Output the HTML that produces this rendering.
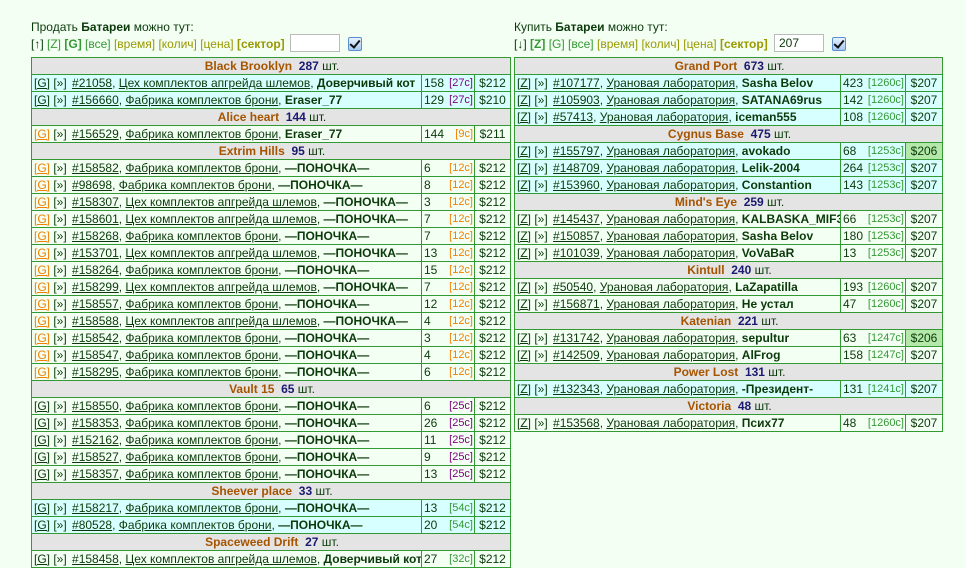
<!DOCTYPE html>
<html><head><meta charset="utf-8">
<style>
body{margin:0;background:#f4fff4;font-family:"Liberation Sans","DejaVu Sans",sans-serif;font-size:12px;color:#0a3a0a;width:966px;height:567px;overflow:hidden;position:relative}
.hd{position:absolute;font-size:12px;white-space:nowrap}
.l1{top:20px}
.l2{top:37px}
.g{color:#339933}.o{color:#999900}
.inp{position:absolute;border:1px solid #bbb;background:#fff;font-size:12px;line-height:16px;padding-left:4px;box-sizing:border-box;width:50px;height:18px}
.cb{position:absolute;width:12px;height:12px;border:1px solid #5b8fd0;border-radius:2px;background:linear-gradient(#e8f2ff,#a8c8f0)}
.cb:after{content:"";position:absolute;left:3px;top:0px;width:4px;height:8px;border:solid #111;border-width:0 2px 2px 0;transform:rotate(40deg)}
table{position:absolute;border-collapse:collapse;table-layout:fixed;top:57px}
td{border:1px solid #339933;height:16px;padding:0 0 0 2px;white-space:nowrap;overflow:hidden;line-height:16px;font-size:12px}
tr.h td{background:#e4e4e4;text-align:center}
.sn{color:#a65400;font-weight:bold}
.ct{color:#1a1a70;font-weight:bold}
tr.c td{background:#d8ffff}
tr.w td{background:#f4fff4}
a{color:#0a3a0a;text-decoration:underline}
.og{color:#f08000}
b{color:#0a3a0a}
.n{margin-left:2px}
.t{float:right;font-size:11px;line-height:16px;padding-right:1px}
.tp{color:#800080}.to{color:#f08000}.tg{color:#339933}
td.p{text-align:center;padding:0}
td.hl{background:#b4e8a8 !important}
</style></head><body>
<div class="hd l1" style="left:31px">Продать <b>Батареи</b> можно тут:</div>
<div class="hd l2" style="left:31px">[↑] <span class="g">[Z]</span> <b class="g" style="color:#339933">[G]</b> <span class="g">[все]</span> <span class="o">[время]</span> <span class="o">[колич]</span> <span class="o">[цена]</span> <b style="color:#999900">[сектор]</b></div>
<div class="inp" style="left:290px;top:34px"></div>
<div class="cb" style="left:348px;top:37px"></div>
<div class="hd l1" style="left:514px">Купить <b>Батареи</b> можно тут:</div>
<div class="hd l2" style="left:514px">[↓] <b style="color:#339933">[Z]</b> <span class="g">[G]</span> <span class="g">[все]</span> <span class="o">[время]</span> <span class="o">[колич]</span> <span class="o">[цена]</span> <b style="color:#999900">[сектор]</b></div>
<div class="inp" style="left:774px;top:34px">207</div>
<div class="cb" style="left:832px;top:37px"></div>

<table style="left:31px;width:479px">
<col style="width:390px"><col style="width:53px"><col style="width:36px">
<tr class="h"><td colspan="3"><span class="sn">Black Brooklyn</span>&nbsp; <span class="ct">287</span> шт.</td></tr>
<tr class="c"><td><a>[G]</a> [»] <a class="n">#21058</a>, <a>Цех комплектов апгрейда шлемов</a>, <b>Доверчивый кот</b></td><td>158<span class="t tp">[27c]</span></td><td class="p">$212</td></tr>
<tr class="c"><td><a>[G]</a> [»] <a class="n">#156660</a>, <a>Фабрика комплектов брони</a>, <b>Eraser_77</b></td><td>129<span class="t tp">[27c]</span></td><td class="p">$210</td></tr>
<tr class="h"><td colspan="3"><span class="sn">Alice heart</span>&nbsp; <span class="ct">144</span> шт.</td></tr>
<tr class="w"><td><a class="og">[G]</a> [»] <a class="n">#156529</a>, <a>Фабрика комплектов брони</a>, <b>Eraser_77</b></td><td>144<span class="t to">[9c]</span></td><td class="p">$211</td></tr>
<tr class="h"><td colspan="3"><span class="sn">Extrim Hills</span>&nbsp; <span class="ct">95</span> шт.</td></tr>
<tr class="w"><td><a class="og">[G]</a> [»] <a class="n">#158582</a>, <a>Фабрика комплектов брони</a>, <b>—ПОНОЧКА—</b></td><td>6<span class="t to">[12c]</span></td><td class="p">$212</td></tr>
<tr class="w"><td><a class="og">[G]</a> [»] <a class="n">#98698</a>, <a>Фабрика комплектов брони</a>, <b>—ПОНОЧКА—</b></td><td>8<span class="t to">[12c]</span></td><td class="p">$212</td></tr>
<tr class="w"><td><a class="og">[G]</a> [»] <a class="n">#158307</a>, <a>Цех комплектов апгрейда шлемов</a>, <b>—ПОНОЧКА—</b></td><td>3<span class="t to">[12c]</span></td><td class="p">$212</td></tr>
<tr class="w"><td><a class="og">[G]</a> [»] <a class="n">#158601</a>, <a>Цех комплектов апгрейда шлемов</a>, <b>—ПОНОЧКА—</b></td><td>7<span class="t to">[12c]</span></td><td class="p">$212</td></tr>
<tr class="w"><td><a class="og">[G]</a> [»] <a class="n">#158268</a>, <a>Фабрика комплектов брони</a>, <b>—ПОНОЧКА—</b></td><td>7<span class="t to">[12c]</span></td><td class="p">$212</td></tr>
<tr class="w"><td><a class="og">[G]</a> [»] <a class="n">#153701</a>, <a>Цех комплектов апгрейда шлемов</a>, <b>—ПОНОЧКА—</b></td><td>13<span class="t to">[12c]</span></td><td class="p">$212</td></tr>
<tr class="w"><td><a class="og">[G]</a> [»] <a class="n">#158264</a>, <a>Фабрика комплектов брони</a>, <b>—ПОНОЧКА—</b></td><td>15<span class="t to">[12c]</span></td><td class="p">$212</td></tr>
<tr class="w"><td><a class="og">[G]</a> [»] <a class="n">#158299</a>, <a>Цех комплектов апгрейда шлемов</a>, <b>—ПОНОЧКА—</b></td><td>7<span class="t to">[12c]</span></td><td class="p">$212</td></tr>
<tr class="w"><td><a class="og">[G]</a> [»] <a class="n">#158557</a>, <a>Фабрика комплектов брони</a>, <b>—ПОНОЧКА—</b></td><td>12<span class="t to">[12c]</span></td><td class="p">$212</td></tr>
<tr class="w"><td><a class="og">[G]</a> [»] <a class="n">#158588</a>, <a>Цех комплектов апгрейда шлемов</a>, <b>—ПОНОЧКА—</b></td><td>4<span class="t to">[12c]</span></td><td class="p">$212</td></tr>
<tr class="w"><td><a class="og">[G]</a> [»] <a class="n">#158542</a>, <a>Фабрика комплектов брони</a>, <b>—ПОНОЧКА—</b></td><td>3<span class="t to">[12c]</span></td><td class="p">$212</td></tr>
<tr class="w"><td><a class="og">[G]</a> [»] <a class="n">#158547</a>, <a>Фабрика комплектов брони</a>, <b>—ПОНОЧКА—</b></td><td>4<span class="t to">[12c]</span></td><td class="p">$212</td></tr>
<tr class="w"><td><a class="og">[G]</a> [»] <a class="n">#158295</a>, <a>Фабрика комплектов брони</a>, <b>—ПОНОЧКА—</b></td><td>6<span class="t to">[12c]</span></td><td class="p">$212</td></tr>
<tr class="h"><td colspan="3"><span class="sn">Vault 15</span>&nbsp; <span class="ct">65</span> шт.</td></tr>
<tr class="w"><td><a>[G]</a> [»] <a class="n">#158550</a>, <a>Фабрика комплектов брони</a>, <b>—ПОНОЧКА—</b></td><td>6<span class="t tp">[25c]</span></td><td class="p">$212</td></tr>
<tr class="w"><td><a>[G]</a> [»] <a class="n">#158353</a>, <a>Фабрика комплектов брони</a>, <b>—ПОНОЧКА—</b></td><td>26<span class="t tp">[25c]</span></td><td class="p">$212</td></tr>
<tr class="w"><td><a>[G]</a> [»] <a class="n">#152162</a>, <a>Фабрика комплектов брони</a>, <b>—ПОНОЧКА—</b></td><td>11<span class="t tp">[25c]</span></td><td class="p">$212</td></tr>
<tr class="w"><td><a>[G]</a> [»] <a class="n">#158527</a>, <a>Фабрика комплектов брони</a>, <b>—ПОНОЧКА—</b></td><td>9<span class="t tp">[25c]</span></td><td class="p">$212</td></tr>
<tr class="w"><td><a>[G]</a> [»] <a class="n">#158357</a>, <a>Фабрика комплектов брони</a>, <b>—ПОНОЧКА—</b></td><td>13<span class="t tp">[25c]</span></td><td class="p">$212</td></tr>
<tr class="h"><td colspan="3"><span class="sn">Sheever place</span>&nbsp; <span class="ct">33</span> шт.</td></tr>
<tr class="c"><td><a>[G]</a> [»] <a class="n">#158217</a>, <a>Фабрика комплектов брони</a>, <b>—ПОНОЧКА—</b></td><td>13<span class="t tg">[54c]</span></td><td class="p">$212</td></tr>
<tr class="c"><td><a>[G]</a> [»] <a class="n">#80528</a>, <a>Фабрика комплектов брони</a>, <b>—ПОНОЧКА—</b></td><td>20<span class="t tg">[54c]</span></td><td class="p">$212</td></tr>
<tr class="h"><td colspan="3"><span class="sn">Spaceweed Drift</span>&nbsp; <span class="ct">27</span> шт.</td></tr>
<tr class="w"><td><a>[G]</a> [»] <a class="n">#158458</a>, <a>Цех комплектов апгрейда шлемов</a>, <b>Доверчивый кот</b></td><td>27<span class="t tg">[32c]</span></td><td class="p">$212</td></tr>
</table>

<table style="left:514px;width:428px">
<col style="width:326px"><col style="width:65px"><col style="width:37px">
<tr class="h"><td colspan="3"><span class="sn">Grand Port</span>&nbsp; <span class="ct">673</span> шт.</td></tr>
<tr class="c"><td><a>[Z]</a> [»] <a class="n">#107177</a>, <a>Урановая лаборатория</a>, <b>Sasha Belov</b></td><td>423<span class="t tg">[1260c]</span></td><td class="p">$207</td></tr>
<tr class="c"><td><a>[Z]</a> [»] <a class="n">#105903</a>, <a>Урановая лаборатория</a>, <b>SATANA69rus</b></td><td>142<span class="t tg">[1260c]</span></td><td class="p">$207</td></tr>
<tr class="c"><td><a>[Z]</a> [»] <a class="n">#57413</a>, <a>Урановая лаборатория</a>, <b>iceman555</b></td><td>108<span class="t tg">[1260c]</span></td><td class="p">$207</td></tr>
<tr class="h"><td colspan="3"><span class="sn">Cygnus Base</span>&nbsp; <span class="ct">475</span> шт.</td></tr>
<tr class="c"><td><a>[Z]</a> [»] <a class="n">#155797</a>, <a>Урановая лаборатория</a>, <b>avokado</b></td><td>68<span class="t tg">[1253c]</span></td><td class="p hl">$206</td></tr>
<tr class="c"><td><a>[Z]</a> [»] <a class="n">#148709</a>, <a>Урановая лаборатория</a>, <b>Lelik-2004</b></td><td>264<span class="t tg">[1253c]</span></td><td class="p">$207</td></tr>
<tr class="c"><td><a>[Z]</a> [»] <a class="n">#153960</a>, <a>Урановая лаборатория</a>, <b>Constantion</b></td><td>143<span class="t tg">[1253c]</span></td><td class="p">$207</td></tr>
<tr class="h"><td colspan="3"><span class="sn">Mind's Eye</span>&nbsp; <span class="ct">259</span> шт.</td></tr>
<tr class="w"><td><a>[Z]</a> [»] <a class="n">#145437</a>, <a>Урановая лаборатория</a>, <b>KALBASKA_MIF3</b></td><td>66<span class="t tg">[1253c]</span></td><td class="p">$207</td></tr>
<tr class="w"><td><a>[Z]</a> [»] <a class="n">#150857</a>, <a>Урановая лаборатория</a>, <b>Sasha Belov</b></td><td>180<span class="t tg">[1253c]</span></td><td class="p">$207</td></tr>
<tr class="w"><td><a>[Z]</a> [»] <a class="n">#101039</a>, <a>Урановая лаборатория</a>, <b>VoVaBaR</b></td><td>13<span class="t tg">[1253c]</span></td><td class="p">$207</td></tr>
<tr class="h"><td colspan="3"><span class="sn">Kintull</span>&nbsp; <span class="ct">240</span> шт.</td></tr>
<tr class="w"><td><a>[Z]</a> [»] <a class="n">#50540</a>, <a>Урановая лаборатория</a>, <b>LaZapatilla</b></td><td>193<span class="t tg">[1260c]</span></td><td class="p">$207</td></tr>
<tr class="w"><td><a>[Z]</a> [»] <a class="n">#156871</a>, <a>Урановая лаборатория</a>, <b>Не устал</b></td><td>47<span class="t tg">[1260c]</span></td><td class="p">$207</td></tr>
<tr class="h"><td colspan="3"><span class="sn">Katenian</span>&nbsp; <span class="ct">221</span> шт.</td></tr>
<tr class="w"><td><a>[Z]</a> [»] <a class="n">#131742</a>, <a>Урановая лаборатория</a>, <b>sepultur</b></td><td>63<span class="t tg">[1247c]</span></td><td class="p hl">$206</td></tr>
<tr class="w"><td><a>[Z]</a> [»] <a class="n">#142509</a>, <a>Урановая лаборатория</a>, <b>AlFrog</b></td><td>158<span class="t tg">[1247c]</span></td><td class="p">$207</td></tr>
<tr class="h"><td colspan="3"><span class="sn">Power Lost</span>&nbsp; <span class="ct">131</span> шт.</td></tr>
<tr class="c"><td><a>[Z]</a> [»] <a class="n">#132343</a>, <a>Урановая лаборатория</a>, <b>-Президент-</b></td><td>131<span class="t tg">[1241c]</span></td><td class="p">$207</td></tr>
<tr class="h"><td colspan="3"><span class="sn">Victoria</span>&nbsp; <span class="ct">48</span> шт.</td></tr>
<tr class="w"><td><a>[Z]</a> [»] <a class="n">#153568</a>, <a>Урановая лаборатория</a>, <b>Псих77</b></td><td>48<span class="t tg">[1260c]</span></td><td class="p">$207</td></tr>
</table>
</body></html>
